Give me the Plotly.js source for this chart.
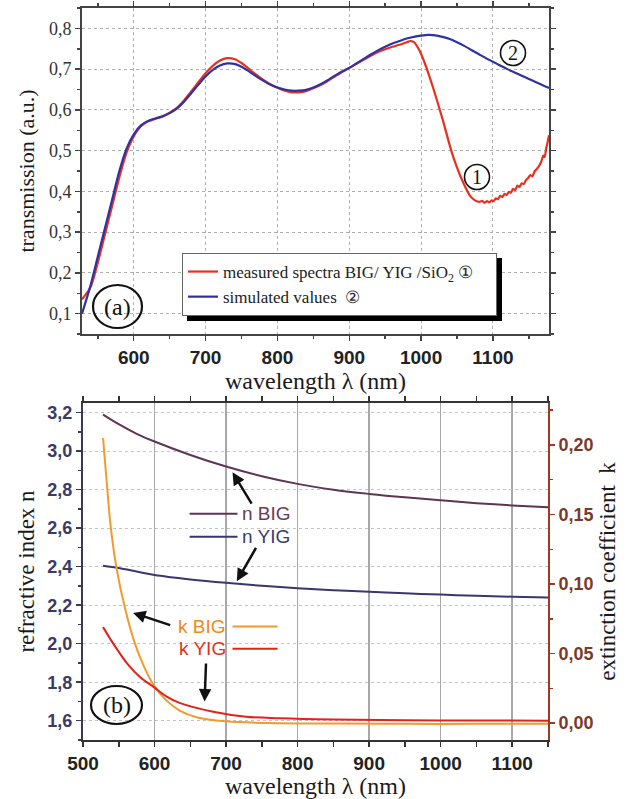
<!DOCTYPE html>
<html>
<head>
<meta charset="utf-8">
<script src="https://cdn.plot.ly/plotly-3.0.1.min.js"></script>
<style>html,body{margin:0;padding:0;background:#fff;}#chart{width:626px;height:799px;}</style>
</head>
<body>
<div id="chart"></div>
<script>
// ---------- Panel (a): transmission ----------
const wlSim = [528,540,550,560,570,580,590,600,610,620,630,640,650,660,670,680,690,700,710,720,730,740,750,760,770,780,790,800,810,820,830,840,850,860,870,880,890,900,910,920,930,940,950,960,970,980,990,1000,1010,1020,1030,1040,1050,1060,1070,1080,1090,1100,1110,1120,1130,1140,1150,1160,1170,1178];
const simulated = [0.10,0.17,0.24,0.31,0.38,0.45,0.505,0.54,0.562,0.573,0.579,0.584,0.592,0.603,0.62,0.641,0.662,0.682,0.698,0.709,0.714,0.713,0.706,0.695,0.683,0.672,0.662,0.655,0.65,0.647,0.647,0.649,0.655,0.663,0.673,0.684,0.694,0.703,0.714,0.725,0.736,0.746,0.755,0.763,0.769,0.775,0.779,0.782,0.784,0.783,0.779,0.774,0.766,0.757,0.747,0.737,0.727,0.718,0.709,0.700,0.692,0.684,0.676,0.668,0.660,0.654];

const wlMeas = [528,540,550,560,570,580,590,600,610,620,630,640,650,660,670,680,690,700,710,720,730,740,750,760,770,780,790,800,810,820,830,840,850,860,870,880,890,900,910,920,930,940,950,960,970,980,985,990,997,1005,1016,1030,1043,1057,1069,1075,1081,1085,1088,1092,1095,1098,1101,1104,1107,1110,1113,1116,1119,1122,1125,1128,1131,1134,1137,1140,1143,1146,1149,1152,1155,1158,1161,1164,1167,1170,1172,1174,1176,1178];
const measured = [0.135,0.165,0.225,0.295,0.365,0.435,0.495,0.535,0.56,0.572,0.578,0.584,0.593,0.605,0.623,0.645,0.668,0.69,0.708,0.721,0.727,0.725,0.715,0.701,0.687,0.674,0.663,0.654,0.647,0.643,0.643,0.646,0.653,0.661,0.671,0.682,0.693,0.703,0.713,0.723,0.733,0.742,0.749,0.755,0.76,0.766,0.769,0.766,0.748,0.715,0.658,0.576,0.494,0.428,0.387,0.378,0.374,0.377,0.372,0.376,0.373,0.378,0.376,0.383,0.381,0.389,0.386,0.394,0.391,0.399,0.397,0.406,0.403,0.414,0.411,0.42,0.418,0.428,0.433,0.44,0.437,0.449,0.455,0.462,0.472,0.488,0.484,0.505,0.52,0.538];

const legendNames = ["measured spectra BIG/ YIG /SiO<sub>2</sub> \u2460\u00a0\u00a0\u00a0\u00a0", "simulated values  \u2461"];

// ---------- Panel (b): optical constants ----------
const wlN = [528,550,575,600,650,700,750,800,850,900,950,1000,1050,1100,1150];
const nBIG = [3.19,3.14,3.09,3.05,2.98,2.92,2.87,2.83,2.80,2.778,2.76,2.745,2.73,2.718,2.708];
const nYIG = [2.405,2.393,2.375,2.357,2.334,2.316,2.301,2.288,2.278,2.27,2.262,2.255,2.249,2.244,2.24];

const wlKBIG = [528,534,539,547,559,572,585,598,615,635,660,700,760,850,950,1050,1150];
const kBIG = [0.205,0.168,0.140,0.111,0.082,0.058,0.041,0.028,0.017,0.009,0.004,0.0012,0.0,-0.0004,-0.0006,-0.0006,-0.0006];
const wlKYIG = [528,545,563,580,600,617,635,682,728,775,850,950,1050,1150];
const kYIG = [0.069,0.055,0.042,0.033,0.0255,0.019,0.0145,0.0081,0.0045,0.0034,0.0025,0.002,0.0018,0.0017];

const seriesB = ["n BIG","n YIG","k BIG","k YIG"];

// ---------- styling helpers ----------
const W = 626, H = 799, L = 82, R = 77, T = 8, B = 59;
const PW = W - L - R, PH = H - T - B;
const px = x => (x - L) / PW;
const py = y => (H - B - y) / PH;
const SERIF = "Liberation Serif, DejaVu Serif, serif";
const SANS = "Liberation Sans, Arial, sans-serif";
const NARROW = "Liberation Sans Narrow, Arial Narrow, Liberation Sans, sans-serif";
const cRed = "#e8301e", cBlue = "#2e32a2";
const cNBIG = "#5e3552", cNYIG = "#3a3670", cKBIG = "#f39a2c", cKYIG = "#e2231a";

const traces = [
  {x: wlMeas, y: measured, name: legendNames[0], type: "scatter", mode: "lines",
   line: {color: cRed, width: 2.2, shape: "spline", smoothing: 0.6}, xaxis: "x", yaxis: "y"},
  {x: wlSim, y: simulated, name: legendNames[1], type: "scatter", mode: "lines",
   line: {color: cBlue, width: 2.2, shape: "spline", smoothing: 0.8}, xaxis: "x", yaxis: "y"},
  {x: wlN, y: nBIG, name: seriesB[0], type: "scatter", mode: "lines", showlegend: false,
   line: {color: cNBIG, width: 2, shape: "spline"}, xaxis: "x2", yaxis: "y2"},
  {x: wlN, y: nYIG, name: seriesB[1], type: "scatter", mode: "lines", showlegend: false,
   line: {color: cNYIG, width: 2, shape: "spline"}, xaxis: "x2", yaxis: "y2"},
  {x: wlKBIG, y: kBIG, name: seriesB[2], type: "scatter", mode: "lines", showlegend: false,
   line: {color: cKBIG, width: 2, shape: "spline", smoothing: 1}, xaxis: "x2", yaxis: "y3"},
  {x: wlKYIG, y: kYIG, name: seriesB[3], type: "scatter", mode: "lines", showlegend: false,
   line: {color: cKYIG, width: 2, shape: "spline", smoothing: 1}, xaxis: "x2", yaxis: "y3"}
];

const topDomainLo = py(334), botDomainHi = py(403);
const tickSans = (size, color) => ({family: NARROW, size: size, weight: 700, color: color});
const LEG_X = 182, LEG_Y = 253;

const layout = {
  width: W, height: H,
  margin: {l: L, r: R, t: T, b: B},
  paper_bgcolor: "#fff", plot_bgcolor: "#fff",
  separators: ",.",
  showlegend: true,
  legend: {x: px(LEG_X), y: py(LEG_Y), xanchor: "left", yanchor: "top",
           bgcolor: "#fff", bordercolor: "#666", borderwidth: 1,
           font: {family: SERIF, size: 17, color: "#222"}, itemwidth: 30, tracegroupgap: 0},
  xaxis: {domain: [0, 1], anchor: "y", range: [528, 1178], tick0: 0, dtick: 100, tickformat: "d",
          tickprefix: "<b>", ticksuffix: "</b>",
          showgrid: true, gridcolor: "#b0b0b0", griddash: "dot", gridwidth: 1,
          showline: true, linecolor: "#444", linewidth: 2, mirror: "allticks",
          ticks: "outside", ticklen: 5, tickwidth: 1.5, tickcolor: "#444",
          minor: {dtick: 50, ticks: "outside", ticklen: 3, tickcolor: "#444", showgrid: false},
          tickfont: tickSans(19, "#222"),
          title: {text: "wavelength λ (nm)", font: {family: SERIF, size: 24, color: "#1a1a1a"}, standoff: 2},
          zeroline: false},
  yaxis: {domain: [topDomainLo, 1], anchor: "x", range: [0.05, 0.85], tick0: 0, dtick: 0.1, tickformat: ".1f",
          showgrid: true, gridcolor: "#b0b0b0", griddash: "dot", gridwidth: 1,
          showline: true, linecolor: "#444", linewidth: 2, mirror: "allticks",
          ticks: "outside", ticklen: 5, tickwidth: 1.5, tickcolor: "#444",
          minor: {dtick: 0.05, ticks: "outside", ticklen: 3, tickcolor: "#444", showgrid: false},
          tickfont: {family: SERIF, size: 18, color: "#333"},
          title: {text: "transmission (a.u.)", font: {family: SERIF, size: 22, color: "#1a1a1a"}, standoff: 8},
          zeroline: false},
  xaxis2: {domain: [px(83), px(548)], anchor: "y2", range: [500, 1150], tick0: 0, dtick: 100, tickformat: "d",
           tickprefix: "<b>", ticksuffix: "</b>",
           showgrid: true, gridcolor: "#a8a8a8", gridwidth: 1.5,
           showline: true, linecolor: "#333", linewidth: 2, mirror: "allticks",
           ticks: "outside", ticklen: 5, tickwidth: 1.5, tickcolor: "#333",
           minor: {dtick: 50, ticks: "outside", ticklen: 3, tickcolor: "#333", showgrid: false},
           tickfont: tickSans(19, "#222"),
           title: {text: "wavelength λ (nm)", font: {family: SERIF, size: 24, color: "#1a1a1a"}, standoff: 0},
           zeroline: false},
  yaxis2: {domain: [0, botDomainHi], anchor: "x2", range: [1.5, 3.25], tick0: 0, dtick: 0.2, tickformat: ".1f",
           tickprefix: "<b>", ticksuffix: "</b>",
           showgrid: true, gridcolor: "#c4c4c4", griddash: "dot", gridwidth: 1,
           showline: true, linecolor: "#3b3a55", linewidth: 2,
           ticks: "outside", ticklen: 5, tickwidth: 1.5, tickcolor: "#3b3a55",
           minor: {dtick: 0.1, ticks: "outside", ticklen: 3, tickcolor: "#3b3a55", showgrid: false},
           tickfont: tickSans(18, "#3b3a66"),
           title: {text: "refractive index n", font: {family: SERIF, size: 23, color: "#1a1a1a"}, standoff: 6},
           zeroline: false},
  yaxis3: {overlaying: "y2", side: "right", anchor: "x2", range: [-0.0122, 0.2302], tick0: 0, dtick: 0.05, tickformat: ".2f",
           tickprefix: "<b>", ticksuffix: "</b>",
           showgrid: false, showline: true, linecolor: "#9a3a2a", linewidth: 2,
           ticks: "outside", ticklen: 5, tickwidth: 1.5, tickcolor: "#9a3a2a",
           minor: {dtick: 0.025, ticks: "outside", ticklen: 3, tickcolor: "#9a3a2a"},
           tickfont: tickSans(18, "#7a3a2a"),
           title: {text: "extinction coefficient\u00a0\u00a0k", font: {family: SERIF, size: 23, color: "#1a1a1a"}, standoff: 6},
           zeroline: false},
  shapes: [
    // legend shadow (resized to the legend box after the first draw)
    {type: "rect", xref: "paper", yref: "paper", x0: px(188), x1: px(507), y0: py(311), y1: py(259),
     fillcolor: "#000", line: {width: 0}, layer: "above"},
    // (a) circle
    {type: "circle", xref: "paper", yref: "paper", x0: px(93), x1: px(142), y0: py(328), y1: py(285),
     line: {color: "#111", width: 2.2}, fillcolor: "rgba(255,255,255,0)", layer: "above"},
    // circled 2 and 1 on curves
    {type: "circle", xref: "paper", yref: "paper", x0: px(500.5), x1: px(525.5), y0: py(65.5), y1: py(40.5),
     line: {color: "#111", width: 1.6}, layer: "above"},
    {type: "circle", xref: "paper", yref: "paper", x0: px(464.5), x1: px(489.5), y0: py(189.5), y1: py(164.5),
     line: {color: "#111", width: 1.6}, layer: "above"},
    // (b) circle
    {type: "circle", xref: "paper", yref: "paper", x0: px(91), x1: px(142), y0: py(724), y1: py(686),
     line: {color: "#111", width: 2.2}, layer: "above"},
    // label key lines panel (b)
    {type: "line", xref: "x2", yref: "y2", x0: 649, x1: 716, y0: 2.675, y1: 2.675, line: {color: cNBIG, width: 2}},
    {type: "line", xref: "x2", yref: "y2", x0: 649, x1: 716, y0: 2.556, y1: 2.556, line: {color: cNYIG, width: 2}},
    {type: "line", xref: "x2", yref: "y2", x0: 709, x1: 772, y0: 2.09, y1: 2.09, line: {color: cKBIG, width: 2}},
    {type: "line", xref: "x2", yref: "y2", x0: 709, x1: 772, y0: 1.974, y1: 1.974, line: {color: cKYIG, width: 2}}
  ],
  annotations: [
    {xref: "paper", yref: "paper", x: px(117.5), y: py(306.5), xanchor: "center", yanchor: "middle", text: "(a)", showarrow: false,
     font: {family: SERIF, size: 24, color: "#111"}},
    {xref: "paper", yref: "paper", x: px(513), y: py(53), xanchor: "center", yanchor: "middle", text: "2", showarrow: false,
     font: {family: SERIF, size: 20, color: "#111"}},
    {xref: "paper", yref: "paper", x: px(477), y: py(177), xanchor: "center", yanchor: "middle", text: "1", showarrow: false,
     font: {family: SERIF, size: 20, color: "#111"}},
    {xref: "paper", yref: "paper", x: px(116.5), y: py(705), xanchor: "center", yanchor: "middle", text: "(b)", showarrow: false,
     font: {family: SERIF, size: 24, color: "#111"}},
    {xref: "x2", yref: "y2", x: 720, y: 2.675, text: seriesB[0], showarrow: false, xanchor: "left", yanchor: "middle",
     font: {family: SANS, size: 19, color: "#6a3a58"}},
    {xref: "x2", yref: "y2", x: 720, y: 2.556, text: seriesB[1], showarrow: false, xanchor: "left", yanchor: "middle",
     font: {family: SANS, size: 19, color: "#3b3a6e"}},
    {xref: "x2", yref: "y2", x: 703, y: 2.09, text: seriesB[2], showarrow: false, xanchor: "right", yanchor: "middle",
     font: {family: SANS, size: 19, color: "#f08a20"}},
    {xref: "x2", yref: "y2", x: 703, y: 1.974, text: seriesB[3], showarrow: false, xanchor: "right", yanchor: "middle",
     font: {family: SANS, size: 19, color: "#e0301e"}},
    // arrows
    {xref: "x2", yref: "y2", axref: "x2", ayref: "y2", x: 709, y: 2.89, ax: 737, ay: 2.72, text: "",
     showarrow: true, arrowhead: 2, arrowsize: 1, arrowwidth: 2.5, arrowcolor: "#111"},
    {xref: "x2", yref: "y2", axref: "x2", ayref: "y2", x: 715, y: 2.325, ax: 743, ay: 2.505, text: "",
     showarrow: true, arrowhead: 2, arrowsize: 1, arrowwidth: 2.5, arrowcolor: "#111"},
    {xref: "x2", yref: "y2", axref: "x2", ayref: "y2", x: 570, y: 2.16, ax: 624, ay: 2.094, text: "",
     showarrow: true, arrowhead: 2, arrowsize: 1, arrowwidth: 2.5, arrowcolor: "#111"},
    {xref: "x2", yref: "y2", axref: "x2", ayref: "y2", x: 670, y: 1.70, ax: 672, ay: 1.905, text: "",
     showarrow: true, arrowhead: 2, arrowsize: 1, arrowwidth: 2.5, arrowcolor: "#111"}
  ]
};

Plotly.newPlot("chart", traces, layout, {displayModeBar: false, staticPlot: true}).then(gd => {
  // fit the drop shadow to the legend box that Plotly drew
  const lg = gd._fullLayout.legend;
  if (lg && lg._width && lg._height) {
    const off = 5;
    return Plotly.relayout(gd, {
      "shapes[0].x0": px(LEG_X + off), "shapes[0].x1": px(LEG_X + lg._width + off),
      "shapes[0].y1": py(LEG_Y + off), "shapes[0].y0": py(LEG_Y + lg._height + off)
    });
  }
});
</script>
</body>
</html>
